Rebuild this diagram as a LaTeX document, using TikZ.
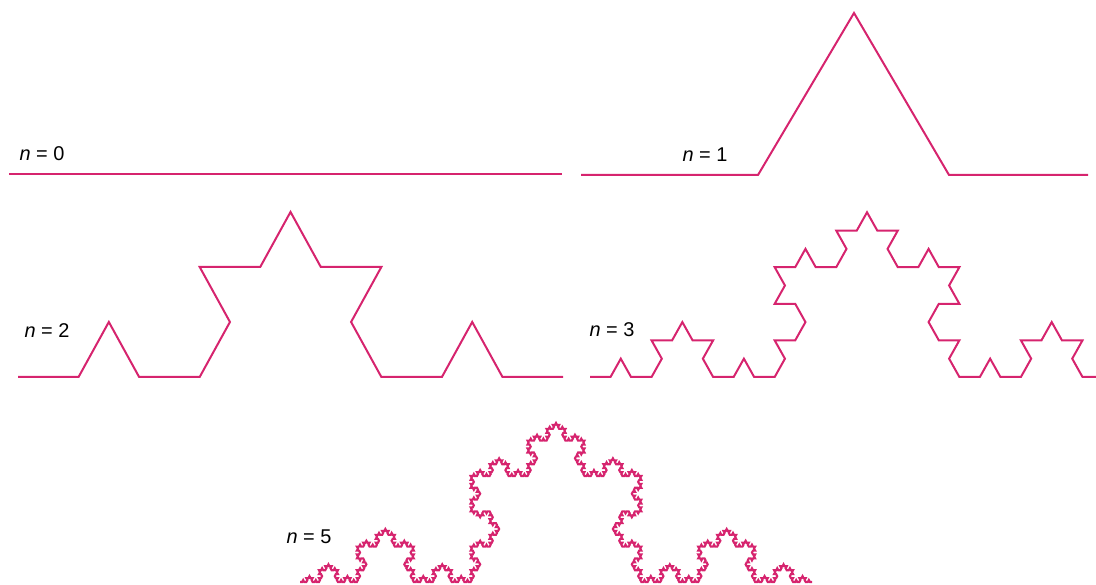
\documentclass[tikz,border=0pt]{standalone}
\usepackage{fontspec}
\setmainfont{Liberation Sans}
\usetikzlibrary{lindenmayersystems}
\definecolor{koch}{RGB}{214,36,110}
\pgfdeclarelindenmayersystem{kochcurve}{\rule{F -> F+F--F+F}}
\tikzset{
  kochline/.style={draw=koch, line width=2bp},
  lbl/.style={font=\fontsize{20}{24}\selectfont, anchor=base, inner sep=0pt, text=black}
}
\begin{document}
\begin{tikzpicture}[x=1bp,y=1bp]
\useasboundingbox (0,0) rectangle (1096,585);
\clip (0,0) rectangle (1096,585);
% n = 0
\coordinate (a0) at (9,411);
\coordinate (b0) at (562,411);
\draw[kochline] (a0) -- (b0);
\node[lbl] (l0) at (42,424) {\itshape n\upshape\ = 0};
% n = 1
\coordinate (p1) at (581,410);
\coordinate (p2) at (758,410);
\coordinate (p3) at (854,572);
\coordinate (p4) at (949,410);
\coordinate (p5) at (1088,410);
\draw[kochline] (p1) -- (p2) -- (p3) -- (p4) -- (p5);
\node[lbl] (l1) at (705,423) {\itshape n\upshape\ = 1};
% n = 2
\begin{scope}[shift={(18,208)}, yscale=1.049]
  \draw[kochline, l-system={kochcurve, axiom=F, order=2, step=60.56bp, angle=60}] (0,0) lindenmayer system;
\end{scope}
\node[lbl] (l2) at (47,247) {\itshape n\upshape\ = 2};
% n = 3
\begin{scope}[shift={(590,208)}, yscale=1.03]
  \draw[kochline, l-system={kochcurve, axiom=F, order=3, step=20.52bp, angle=60}] (0,0) lindenmayer system;
\end{scope}
\node[lbl] (l3) at (612,248) {\itshape n\upshape\ = 3};
% n = 5
\begin{scope}[shift={(300,3)}, yscale=1.076]
  \draw[kochline, line width=2.1bp, l-system={kochcurve, axiom=F, order=5, step=2.107bp, angle=60}] (0,0) lindenmayer system;
\end{scope}
\node[lbl] (l5) at (309,41) {\itshape n\upshape\ = 5};
\end{tikzpicture}
\end{document}
